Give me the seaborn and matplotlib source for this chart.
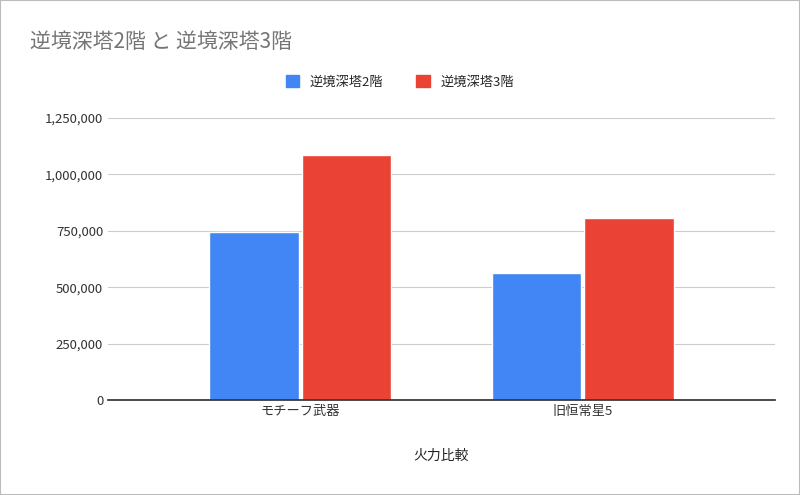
import matplotlib
matplotlib.use("Agg")
import matplotlib.pyplot as plt
import seaborn as sns
import pandas as pd
from matplotlib.ticker import FuncFormatter

categories = ["モチーフ武器", "旧恒常星5"]
series_names = ["逆境深塔2階", "逆境深塔3階"]
floor2 = [745000, 562000]
floor3 = [1085000, 808000]

df = pd.DataFrame({
    "cat": categories * 2,
    "series": [series_names[0]] * 2 + [series_names[1]] * 2,
    "val": floor2 + floor3,
})

sns.set_theme(style="white")
plt.rcParams['font.family'] = ['Noto Sans CJK JP', 'DejaVu Sans']

fig = plt.figure(figsize=(8, 4.95), dpi=100)
ax = fig.add_axes([108/800, 1-400/495, 667/800, 282/495])
sns.barplot(data=df, x="cat", y="val", hue="series", palette=["#4285F4", "#EA4335"],
            width=0.655, gap=0.03, ax=ax, legend=False, saturation=1)
ax.set_xlim(-0.68, 1.68)
ax.set_ylim(0, 1250000)
ax.set_yticks([0, 250000, 500000, 750000, 1000000, 1250000])
ax.yaxis.set_major_formatter(FuncFormatter(lambda v, p: f"{int(v):,}"))
ax.grid(axis="y", color="#cccccc", linewidth=0.8)
ax.set_axisbelow(True)
for s in ["top", "right", "left"]:
    ax.spines[s].set_visible(False)
ax.spines["bottom"].set_color("#333333")
ax.tick_params(axis="both", length=0, labelsize=9.5, colors="#333333")
ax.set_ylabel("")
ax.set_xlabel("火力比較", fontsize=10, color="#222222", labelpad=22)

fig.text(30/800, 1-42/495, "逆境深塔2階 と 逆境深塔3階", fontsize=15, color="#757575", va="center")
from matplotlib.patches import Patch
handles = [Patch(color="#4285F4"), Patch(color="#EA4335")]
fig.legend(handles, series_names, loc="center", bbox_to_anchor=(0.5, 1-82/495), ncol=2,
           frameon=False, fontsize=9.5, handlelength=1, handleheight=1, columnspacing=2.5)
fig.patches.append(matplotlib.patches.Rectangle((0, 0), 1, 1, transform=fig.transFigure,
                   fill=False, edgecolor="#bbbbbb", linewidth=1.5))
fig.savefig("out.png", dpi=100)
